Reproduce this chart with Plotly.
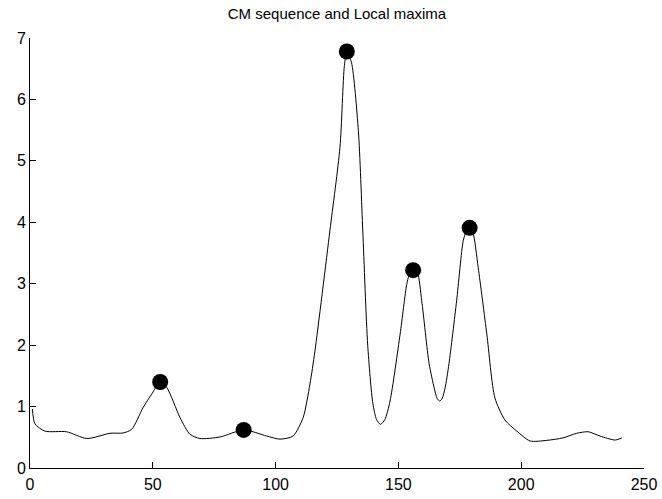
import plotly.graph_objects as go

# CM sequence
cm_x = [1, 2, 6.1, 14.9, 23.1, 32.6, 37.9, 41.4, 46, 49.5, 53, 55.7, 61.1, 65.1, 69.2, 77.4,
        87, 96.4, 101.8, 107.1, 111.2, 114, 116, 122.1, 126.2, 128, 129, 130.9, 133.7, 135.5,
        137.5, 139.6, 141.1, 142.7, 144.5, 146.6, 150.7, 153.4, 154.7, 156, 157.7, 159.5, 162.5,
        164.6, 165.8, 166.8, 167.8, 169, 170.6, 173.7, 176.4, 177.7,
        179, 180.3, 182.5, 186, 189.3, 193.4, 198.2, 203.6, 210.4, 217, 222.6, 227.3, 232.1, 238.3, 241]
cm_y = [0.96, 0.72, 0.6, 0.59, 0.48, 0.565, 0.57, 0.63, 0.98, 1.2, 1.40, 1.31, 0.82, 0.55, 0.48, 0.505,
        0.62, 0.52, 0.47, 0.52, 0.82, 1.37, 1.9, 3.86, 5.22, 6.55, 6.78, 6.6, 5.49, 3.86,
        2.0, 1.05, 0.79, 0.71, 0.79, 1.09, 2.18, 2.99, 3.18, 3.22, 3.18, 2.72, 1.7,
        1.3, 1.13, 1.09, 1.13, 1.3, 1.7, 2.72, 3.7, 3.86,
        3.91, 3.84, 3.26, 2.18, 1.14, 0.78, 0.6, 0.44, 0.45, 0.49, 0.565, 0.59, 0.52, 0.455, 0.49]

# Local maxima
max_x = [53, 87, 129, 156, 179]
max_y = [1.40, 0.62, 6.78, 3.22, 3.91]

x_ticks = [0, 50, 100, 150, 200, 250]
y_ticks = [0, 1, 2, 3, 4, 5, 6, 7]

fig = go.Figure()
fig.add_trace(go.Scatter(x=cm_x, y=cm_y, mode="lines",
                         line=dict(color="black", width=1, shape="spline", smoothing=0.7),
                         showlegend=False, hoverinfo="skip"))
fig.add_trace(go.Scatter(x=max_x, y=max_y, mode="markers",
                         marker=dict(color="black", size=16, line=dict(width=0)),
                         showlegend=False))

fig.update_layout(
    width=662, height=499,
    margin=dict(l=30, r=18, t=38, b=31),
    paper_bgcolor="white", plot_bgcolor="white",
    font=dict(family="Liberation Sans, Arial, sans-serif", size=16, color="black"),
    title=dict(text="CM sequence and Local maxima", x=337/662, xanchor="center",
               y=1 - 14/499, yanchor="middle", font=dict(size=15, color="black")),
    xaxis=dict(range=[0, 250], tickvals=x_ticks, ticks="inside", ticklen=6, tickcolor="black",
               showline=True, linecolor="black", linewidth=1, showgrid=False, zeroline=False,
               mirror=False, tickfont=dict(size=16), ticklabelstandoff=2, automargin=False),
    yaxis=dict(range=[0, 7], tickvals=y_ticks, ticks="inside", ticklen=6, tickcolor="black",
               showline=True, linecolor="black", linewidth=1, showgrid=False, zeroline=False,
               mirror=False, tickfont=dict(size=16), automargin=False),
)

fig.write_html("out.html")
